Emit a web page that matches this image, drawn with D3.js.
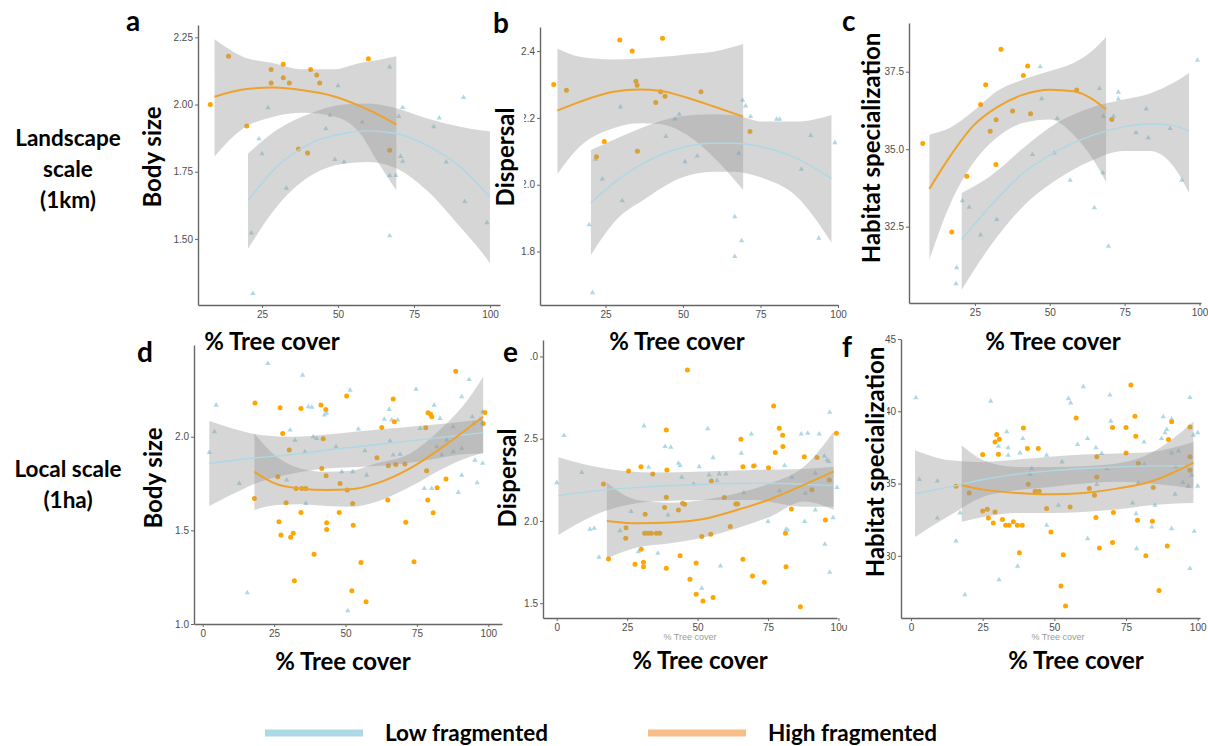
<!DOCTYPE html>
<html>
<head>
<meta charset="utf-8">
<script src="https://cdn.jsdelivr.net/npm/d3@7"></script>
<style>
  body { margin: 0; background: #fff; }
  svg { display: block; }
  .tick text { font-family: "Liberation Sans", Arial, sans-serif; fill: #4d4d4d; }
  .big { font-family: Lato, "Open Sans", sans-serif; font-weight: bold; fill: #000; }
</style>
</head>
<body>
<svg id="chart" width="1208" height="746"></svg>
<script>
// ---- data: [tree cover %, value] ----
var aLow = [[24,1.873],[25,1.817],[27,1.988],[33,1.689],[21.5,1.522],[22,1.297],[46,1.91],[47.4,1.96],[50,2.07],[49,1.796],[52,1.786],[58,1.935],[67,2.14],[67,1.736],[69,1.736],[67,1.512],[70,1.956],[71.3,1.989],[70.6,1.807],[71.3,1.789],[81.5,1.917],[83.3,1.95],[85.6,1.786],[91.3,2.026],[91.7,1.639],[99,1.56]];
var aHigh = [[8,2.0],[14,2.18],[20,1.92],[28,2.13],[28,2.08],[32,2.1],[32,2.15],[34,2.08],[41,2.13],[43,2.11],[44,2.08],[37,1.835],[40,1.82],[60,2.17],[67,1.83]];
// fitted curves: [x, fit, lower, upper]
var aLowFit = [[20.4,1.643,1.463,1.817],[29.7,1.767,1.618,1.904],[40.7,1.854,1.733,1.966],[51.8,1.892,1.78,2.0],[59.5,1.902,1.786,2.004],[68.3,1.894,1.767,1.989],[79.3,1.848,1.68,1.948],[90.3,1.767,1.543,1.917],[96.9,1.693,1.456,1.904],[100,1.655,1.41,1.9]];
var aHighFit = [[9.4,2.029,1.807,2.243],[18.7,2.056,1.91,2.178],[28.6,2.063,1.954,2.155],[38.5,2.053,1.969,2.131],[48.5,2.031,1.956,2.131],[57.3,1.994,1.892,2.155],[62.8,1.965,1.792,2.165],[69.2,1.925,1.68,2.18]];

var bLow = [[29.8,2.233],[21.8,2.076],[24,2.017],[30.4,1.952],[19.7,1.88],[20.8,1.677],[47.4,2.197],[48.8,2.211],[44.5,2.144],[50.6,2.069],[54.6,2.086],[68,2.094],[69.2,2.253],[70.2,2.236],[71.8,2.204],[66.7,1.904],[68.9,1.832],[66.7,1.785],[80.2,2.196],[81.2,2.196],[88.2,2.046],[91.2,2.147],[93.8,1.84],[99,2.126]];
var bHigh = [[8.3,2.3],[12.4,2.283],[29.6,2.433],[33.6,2.4],[43.4,2.438],[34.8,2.31],[35.2,2.298],[24.6,2.129],[22.1,2.084],[35.3,2.1],[41.2,2.246],[42.8,2.278],[44.2,2.265],[55.8,2.278],[71.6,2.159]];
var bLowFit = [[20.3,1.946,1.79,2.104],[27.5,2.004,1.885,2.134],[38.2,2.069,1.96,2.176],[49,2.109,2.019,2.204],[59.7,2.124,2.039,2.211],[66.2,2.124,2.039,2.209],[75.9,2.112,2.019,2.189],[86.6,2.079,1.965,2.189],[97.9,2.019,1.827,2.209]];
var bHighFit = [[9.5,2.222,2.032,2.408],[16.7,2.248,2.114,2.383],[27.5,2.278,2.169,2.375],[36.1,2.285,2.184,2.378],[42.5,2.281,2.182,2.382],[51.1,2.261,2.15,2.39],[59.7,2.235,2.084,2.398],[69.4,2.204,1.984,2.421]];

var cLow = [[18.9,31.18],[18.7,30.66],[20.8,33.34],[23.1,33.13],[26.9,32.23],[32.3,32.73],[44.2,34.83],[46.8,37.66],[47.3,36.63],[51.5,34.88],[52.5,35.99],[56.8,34.0],[64.9,33.11],[66.6,36.96],[67.7,34.24],[67.9,36.06],[69.6,31.87],[71.3,36.06],[72.9,36.84],[72.9,36.62],[78.8,35.53],[82.2,36.3],[82.9,35.37],[90.2,35.67],[94.1,34.0],[99.3,37.87]];
var cHigh = [[7.6,35.18],[17.3,32.33],[22.3,34.13],[26.9,36.44],[28.6,37.08],[30.1,35.58],[32,34.51],[32.1,35.95],[33.7,38.22],[37.6,36.23],[41.2,37.38],[42.6,37.68],[43.6,36.14],[59,36.91],[70.7,35.96]];
var cLowFit = [[20.6,32.09,30.47,33.59],[30.1,33.16,31.87,34.13],[41.2,34.24,33.16,35.04],[52.4,34.94,34.02,35.85],[63.5,35.42,34.61,36.33],[74.6,35.72,34.94,36.6],[83.5,35.82,34.94,36.8],[91.3,35.76,34.45,37.14],[96.5,35.58,33.59,37.46]];
var cHighFit = [[9.8,33.72,31.44,35.47],[16.7,34.77,33.22,35.69],[24.5,35.76,34.56,36.23],[32.3,36.35,35.37,36.87],[41.2,36.76,35.85,37.25],[50.1,36.92,35.96,37.52],[57.9,36.87,35.47,37.78],[64.5,36.6,34.67,38.2],[68.8,36.28,33.94,38.62]];

var dLow = [[2.3,1.916],[4.1,2.027],[4.7,2.169],[12.8,1.751],[15.6,1.167],[22.8,2.391],[29.4,1.769],[30.6,2.036],[32.3,1.982],[35,2.329],[35.8,1.92],[36.1,1.644],[37,2.16],[38.2,2.157],[38.7,2.0],[39.9,1.991],[42.6,2.116],[43.4,2.125],[46.7,1.947],[48.7,1.813],[51.6,2.249],[50.8,1.071],[52.5,1.813],[54.5,2.041],[56.8,1.925],[57.4,1.795],[63.6,2.093],[65.3,2.146],[66.2,2.089],[68.3,2.089],[65.6,1.977],[66.7,1.902],[69.1,1.907],[74.7,2.254],[76.1,2.044],[77.6,1.724],[80.2,1.724],[81,2.169],[83.1,2.098],[81.9,1.947],[83.7,1.902],[85.4,1.982],[87.7,2.053],[89.5,1.703],[90.7,1.795],[90.7,2.214],[93.3,2.306],[94.4,2.107],[95,2.071],[95.3,1.875],[96.1,1.754],[97.1,2.093],[98,2.133],[98,1.858],[90.7,1.938],[87.7,1.92]];
var dHigh = [[18.3,2.18],[18.1,1.67],[27.1,2.155],[28,2.018],[26.3,1.786],[30.3,1.929],[29.2,1.648],[26.7,1.546],[27.4,1.475],[30.8,1.463],[31.7,1.484],[32.1,1.231],[32.7,1.724],[34.7,1.724],[36.1,1.724],[34.4,2.151],[34.4,1.596],[39,1.372],[41.4,2.169],[43.1,2.146],[42.2,1.989],[41.7,1.831],[43.2,1.792],[43.4,1.541],[43.4,1.505],[48.1,1.751],[47.8,1.596],[50.4,2.217],[50.6,1.715],[52.5,1.644],[52.2,1.178],[52.7,1.528],[55.4,1.329],[57.2,1.119],[61,1.888],[62.7,2.05],[65,1.845],[64.8,1.662],[66.7,2.201],[67.1,2.08],[67.6,1.852],[70.8,1.854],[71.1,1.543],[74,1.333],[78.1,2.048],[78.4,1.818],[78.8,1.662],[78.9,2.128],[79.8,2.12],[80.2,2.107],[80.7,1.594],[82.1,1.728],[85.2,1.774],[88.6,2.35],[98.2,2.071],[98.8,2.13]];
var dLowFit = [[2.3,1.858,1.63,2.084],[14,1.88,1.72,2.03],[20.1,1.89,1.76,2.01],[32,1.905,1.805,2.0],[43.4,1.929,1.83,2.012],[55,1.948,1.838,2.03],[66.7,1.968,1.85,2.045],[77,1.985,1.87,2.06],[87.7,2.004,1.9,2.075],[98.2,2.021,1.91,2.093]];
var dHighFit = [[18.1,1.813,1.609,2.018],[25.9,1.747,1.635,1.893],[34.1,1.724,1.639,1.831],[43.4,1.715,1.63,1.813],[51.6,1.719,1.626,1.818],[60.9,1.751,1.653,1.858],[72.6,1.831,1.733,1.911],[84.2,1.947,1.831,2.053],[93.6,2.053,1.893,2.214],[98.2,2.107,1.915,2.32]];

var eLow = [[0,2.233],[2.6,2.519],[8.9,2.294],[11.8,1.949],[13.3,1.955],[15,1.779],[22.5,1.941],[26.4,2.057],[29,1.813],[31,2.578],[32.6,2.326],[35.9,1.803],[38.5,2.452],[40.5,2.448],[39.5,2.036],[43.2,2.351],[43.8,2.337],[44.4,2.266],[50.6,2.33],[48.6,2.225],[51.5,1.591],[53.6,2.56],[54.1,2.28],[55.5,2.385],[56.9,2.245],[57.7,2.286],[58.1,1.726],[60.1,2.286],[65.5,2.411],[66.4,2.172],[69.1,2.529],[70.5,2.337],[75,1.996],[79.1,2.184],[80.9,2.337],[81.4,1.949],[82,1.945],[83.5,2.266],[86.8,2.529],[88,1.996],[89.1,2.533],[88.3,2.168],[91.8,2.067],[93.2,2.529],[95,2.395],[95.2,1.858],[96,2.371],[96.6,2.361],[96.9,2.661],[96.9,1.688],[98.1,2.02],[99.5,2.203],[91.8,2.29]];
var eHigh = [[16.6,2.225],[18.4,1.769],[25.5,2.304],[24.6,1.959],[24.5,1.895],[27.8,1.736],[29.9,2.33],[30,1.828],[30.8,1.749],[30.8,1.722],[31.2,1.925],[32.4,1.925],[33.6,1.925],[35.4,1.925],[36.6,1.925],[31.4,2.04],[34.1,2.286],[38.9,2.553],[39.1,2.31],[38.9,2.144],[38.9,1.712],[38.3,2.081],[43.2,2.067],[43.8,1.789],[44.7,2.107],[45.4,2.101],[46.4,2.918],[47.3,1.645],[49.5,1.745],[49.5,1.554],[51.5,1.905],[51.9,1.513],[54.9,2.243],[54.7,1.919],[55.5,1.534],[59.5,2.142],[61.6,1.966],[63.6,2.103],[64.2,2.103],[65.4,2.497],[66.1,2.33],[66.1,1.767],[69.9,2.334],[69.5,1.666],[73.7,1.627],[75.2,2.324],[77,2.699],[77.6,2.416],[79,2.564],[80.2,2.521],[80.3,2.452],[81.2,1.925],[81.4,1.722],[83.3,2.073],[86.5,1.479],[87.9,2.391],[90.6,2.189],[92.4,2.385],[95.4,2.006],[96.8,2.249],[99.3,2.533]];
var eLowFit = [[0.6,2.154,1.915,2.387],[16.6,2.189,2.057,2.32],[34.4,2.209,2.118,2.294],[52.1,2.223,2.128,2.3],[69.9,2.229,2.128,2.31],[87.7,2.223,2.087,2.316],[98.3,2.215,2.087,2.33]];
var eHighFit = [[17.8,2.0,1.773,2.233],[28.4,1.986,1.838,2.128],[40.3,1.99,1.864,2.111],[52.1,2.012,1.899,2.128],[64,2.067,1.955,2.168],[75.8,2.132,2.026,2.229],[87.7,2.219,2.118,2.33],[98.3,2.3,2.067,2.543]];

var fLow = [[1.7,40.93],[2.9,35.28],[9.2,35.18],[9.2,32.62],[15.7,31.03],[17.1,32.97],[18.8,27.31],[27.8,40.7],[30.5,37.58],[30.7,28.35],[33.4,38.58],[33.9,37.47],[33.9,36.96],[38,37.12],[39,38.12],[37.2,29.28],[41.5,35.65],[42.1,36.04],[47.3,36.96],[47.3,32.12],[51.4,33.5],[52.7,36.5],[54.9,40.88],[55.7,40.58],[58.1,37.7],[60.1,41.69],[61.6,31.19],[61.6,38.12],[64.5,37.47],[64.8,34.93],[66.5,37.08],[68.3,36.04],[69.4,41.12],[69.7,39.32],[77.3,33.66],[78.5,32.92],[78.7,30.5],[79.3,35.05],[81.3,37.88],[81.4,36.34],[84,32.0],[85.1,33.5],[87.4,38.12],[88,39.62],[88.6,38.51],[89.2,38.74],[90.9,39.46],[90.9,37.12],[90.9,31.88],[92.1,34.26],[92.4,36.15],[93.3,37.26],[94.8,35.07],[96.7,34.82],[97.3,40.95],[97.3,29.12],[98.5,38.35],[98.8,31.7],[100,38.51],[100,34.82],[97.9,35.58]];
var fHigh = [[15.7,34.82],[20.3,34.35],[25,37.01],[25,33.11],[26.6,33.22],[27,32.62],[28.7,32.28],[29.3,33.04],[29.3,37.88],[29.9,38.39],[30.8,38.07],[30.5,37.03],[31.9,32.51],[33,32.12],[34.2,32.12],[35.7,32.35],[37.1,32.12],[38.8,32.12],[37.8,30.22],[39.2,38.85],[40.6,37.42],[40.9,34.95],[43.3,34.47],[44.4,37.42],[44.7,34.47],[47.3,33.27],[48.8,31.65],[52.3,27.91],[53.1,30.08],[53.9,26.53],[55.5,33.38],[57.6,39.54],[62.2,34.65],[64,34.19],[64.5,32.65],[64.8,36.85],[64.8,35.46],[65.7,30.55],[70.3,38.88],[70.6,32.99],[70.3,30.92],[75,38.88],[75,37.12],[76.7,41.81],[78.1,39.66],[78.4,38.28],[79,32.46],[79.3,36.38],[81.9,30.0],[84.2,32.39],[84.5,34.72],[86.5,27.61],[89.4,30.68],[89.8,38.05],[90.9,39.27],[97.3,38.92],[97.3,36.85],[97.3,35.92]];
var fLowFit = [[1.4,34.31,31.31,37.31],[13.6,34.77,32.81,36.62],[25.2,35.28,34.08,36.5],[36.9,35.65,34.54,36.66],[48.5,35.88,34.77,36.85],[60.1,36.04,35.0,37.01],[71.7,36.15,35.12,37.08],[83.4,36.22,35.0,37.19],[98.5,36.22,34.65,37.88]];
var fHighFit = [[17.7,34.88,32.35,37.65],[25.2,34.58,32.69,36.62],[36.9,34.35,32.97,36.15],[48.5,34.26,32.97,36.15],[60.1,34.35,33.04,36.2],[71.7,34.65,33.2,36.38],[83.4,35.12,33.5,37.08],[98.5,36.43,33.66,39.27]];

var xTicksTop = [25, 50, 75, 100];
var xTicksBottom = [0, 25, 50, 75, 100];
var seriesNames = ['Low fragmented', 'High fragmented'];
var rowLabels = [['Landscape', 'scale', '(1km)'], ['Local scale', '(1ha)']];

// ---- layout ----
var panels = [
  {id: 'a', low: aLow, high: aHigh, lowFit: aLowFit, highFit: aHighFit, title: 'Body size',
   l: 198, r: 500, t: 25, b: 305, xDom: [3.95, 103.3], yDom: [1.254, 2.296],
   xTicks: xTicksTop, yTicks: [1.5, 1.75, 2.0, 2.25], yFmt: '.2f',
   letter: [126, 31], titlePos: [153, 157], xTitle: [272, 350]},
  {id: 'b', low: bLow, high: bHigh, lowFit: bLowFit, highFit: bHighFit, title: 'Dispersal',
   l: 540, r: 838, t: 27, b: 305, xDom: [3.87, 100], yDom: [1.64, 2.472],
   xTicks: xTicksTop, yTicks: [1.8, 2.0, 2.2, 2.4], yFmt: '.1f',
   letter: [493, 33], titlePos: [506, 157], xTitle: [677, 350], mask: [490, 95, 34, 120]},
  {id: 'c', low: cLow, high: cHigh, lowFit: cLowFit, highFit: cHighFit, title: 'Habitat specialization',
   l: 909, r: 1201, t: 23, b: 303, xDom: [3.0, 100.5], yDom: [30.04, 39.07],
   xTicks: xTicksTop, yTicks: [32.5, 35.0, 37.5], yFmt: '.1f',
   letter: [842, 31], titlePos: [872, 148], xTitle: [1053, 350], mask: [841, 20, 39, 290]},
  {id: 'd', low: dLow, high: dHigh, lowFit: dLowFit, highFit: dHighFit, title: 'Body size',
   l: 194, r: 502, t: 345, b: 624, xDom: [-3.05, 104.8], yDom: [1.0, 2.49],
   xTicks: xTicksBottom, yTicks: [1.0, 1.5, 2.0], yFmt: '.1f',
   letter: [137, 362], titlePos: [154, 478], xTitle: [343, 670]},
  {id: 'e', low: eLow, high: eHigh, lowFit: eLowFit, highFit: eHighFit, title: 'Dispersal',
   l: 543, r: 837, t: 340, b: 618, xDom: [-4.87, 99.5], yDom: [1.41, 3.10],
   xTicks: xTicksBottom, yTicks: [1.5, 2.0, 2.5, 3.0], yFmt: '.1f',
   letter: [503, 362], titlePos: [508, 478], xTitle: [700, 669], mask: [498, 336, 32, 30], small: [690, 640]},
  {id: 'f', low: fLow, high: fHigh, lowFit: fLowFit, highFit: fHighFit, title: 'Habitat specialization',
   l: 901, r: 1200, t: 339, b: 618, xDom: [-3.49, 100.8], yDom: [25.7, 45],
   xTicks: xTicksBottom, yTicks: [30, 35, 40, 45], yFmt: 'd',
   letter: [842, 357], titlePos: [876, 462], xTitle: [1076, 669], mask: [841, 345, 46, 280], small: [1058, 640]}
];

var svg = d3.select('#chart');
var orange = '#ffa500', orangeLine = '#eda22c', blue = '#add8e6';

panels.forEach(function(p) {
  var x = d3.scaleLinear().domain(p.xDom).range([p.l, p.r]);
  var y = d3.scaleLinear().domain(p.yDom).range([p.b, p.t]);
  var g = svg.append('g').attr('class', 'panel-' + p.id);

  // points first, ribbons drawn over them like geom_smooth
  g.selectAll('path.low-pt')
    .data(p.low)
    .enter()
    .append('path')
    .attr('class', 'low-pt')
    .attr('d', d3.symbol(d3.symbolTriangle).size(12))
    .attr('transform', function(d) { return 'translate(' + x(d[0]) + ',' + y(d[1]) + ')'; })
    .attr('fill', blue);

  g.selectAll('circle.high-pt')
    .data(p.high)
    .enter()
    .append('circle')
    .attr('class', 'high-pt')
    .attr('cx', function(d) { return x(d[0]); })
    .attr('cy', function(d) { return y(d[1]); })
    .attr('r', 2.5)
    .attr('fill', orange);

  var band = d3.area()
    .x(function(d) { return x(d[0]); })
    .y0(function(d) { return y(d[2]); })
    .y1(function(d) { return y(d[3]); })
    .curve(d3.curveMonotoneX);
  var fit = d3.line()
    .x(function(d) { return x(d[0]); })
    .y(function(d) { return y(d[1]); })
    .curve(d3.curveMonotoneX);

  [p.lowFit, p.highFit].forEach(function(f) {
    g.append('path').attr('d', band(f)).attr('fill', '#999').attr('fill-opacity', 0.4);
  });
  g.append('path').attr('d', fit(p.lowFit)).attr('fill', 'none').attr('stroke', blue).attr('stroke-width', 1.4);
  g.append('path').attr('d', fit(p.highFit)).attr('fill', 'none').attr('stroke', orangeLine).attr('stroke-width', 2);

  // axes
  var xa = g.append('g')
    .attr('transform', 'translate(0,' + p.b + ')')
    .call(d3.axisBottom(x).tickValues(p.xTicks).tickSize(3).tickSizeOuter(0).tickPadding(3));
  var ya = g.append('g')
    .attr('transform', 'translate(' + p.l + ',0)')
    .call(d3.axisLeft(y).tickValues(p.yTicks).tickFormat(d3.format(p.yFmt)).tickSize(3).tickSizeOuter(0).tickPadding(2));
  [xa, ya].forEach(function(a) {
    a.select('.domain').attr('stroke', '#666').attr('stroke-width', 1.4);
    a.selectAll('.tick line').attr('stroke', '#666');
    a.selectAll('.tick text').attr('font-size', 10);
  });

  if (p.small) {
    g.append('text')
      .attr('x', p.small[0]).attr('y', p.small[1])
      .attr('text-anchor', 'middle')
      .attr('font-family', 'Liberation Sans, Arial, sans-serif')
      .attr('font-size', 9).attr('fill', '#9a9a9a')
      .text('% Tree cover');
  }
});

// white label boxes that hide part of neighbouring tick labels, as in the figure
panels.forEach(function(p) {
  if (p.mask) {
    svg.append('rect')
      .attr('x', p.mask[0]).attr('y', p.mask[1])
      .attr('width', p.mask[2]).attr('height', p.mask[3])
      .attr('fill', '#fff');
  }
});

panels.forEach(function(p) {
  svg.append('text').attr('class', 'big')
    .attr('x', p.letter[0]).attr('y', p.letter[1])
    .attr('font-size', 28)
    .text(p.id);

  svg.append('text').attr('class', 'big')
    .attr('transform', 'translate(' + p.titlePos[0] + ',' + p.titlePos[1] + ') rotate(-90)')
    .attr('text-anchor', 'middle')
    .attr('dy', '0.35em')
    .attr('font-size', 24)
    .text(p.title);

  svg.append('text').attr('class', 'big')
    .attr('x', p.xTitle[0]).attr('y', p.xTitle[1])
    .attr('text-anchor', 'middle')
    .attr('font-size', 24)
    .text('% Tree cover');
});

// row labels
var rowY = [[146, 177, 208], [477, 508]];
rowLabels.forEach(function(lines, i) {
  lines.forEach(function(s, j) {
    svg.append('text').attr('class', 'big')
      .attr('x', 68).attr('y', rowY[i][j])
      .attr('text-anchor', 'middle')
      .attr('font-size', 22.5)
      .text(s);
  });
});

// legend
var legend = svg.append('g').attr('class', 'legend');
var legendX = [265, 648];
var legendColors = ['#add8e6', '#f8be8a'];
seriesNames.forEach(function(name, i) {
  legend.append('line')
    .attr('x1', legendX[i]).attr('x2', legendX[i] + 98)
    .attr('y1', 733).attr('y2', 733)
    .attr('stroke', legendColors[i]).attr('stroke-width', 7);
  legend.append('text').attr('class', 'big')
    .attr('x', legendX[i] + 120).attr('y', 741)
    .attr('font-size', 22.5)
    .text(name);
});
</script>
</body>
</html>
